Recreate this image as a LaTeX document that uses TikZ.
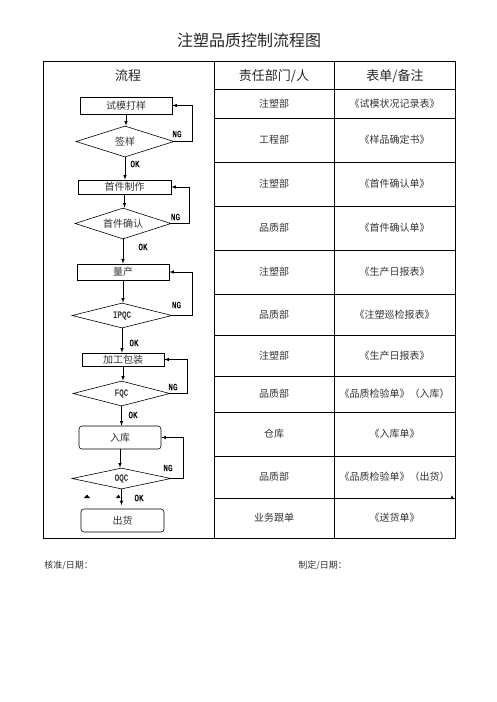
\documentclass[tikz,border=0pt]{standalone}
\usepackage{fontspec}
\newfontfamily\cjk{Noto Sans CJK SC}
\newfontfamily\lat[FakeStretch=0.8, FakeBold=1.2]{Liberation Mono}
\usetikzlibrary{shapes.geometric}

\tikzset{
	caja/.style={draw, rectangle, inner sep=0pt, text=black!80, font=\cjk\fontsize{10}{12}\selectfont},
	rombo/.style={draw, diamond, aspect=4, inner sep=0pt, text=black!80, font=\cjk\fontsize{10}{12}\selectfont},
	etiq/.style={inner sep=0pt, font=\lat\fontsize{9.5}{11}\selectfont},
	celda/.style={inner sep=0pt, text=black!80, font=\cjk\fontsize{10}{12}\selectfont},
	encabezado/.style={inner sep=0pt, text=black!85, font=\cjk\fontsize{13}{15}\selectfont},
}

\begin{document}
\begin{tikzpicture}[x=1pt, y=-1pt, >=latex, line width=0.6pt]
	\useasboundingbox (0,0) rectangle (496,702);
		% Titulo
			\node[encabezado, font=\cjk\fontsize{16}{18}\selectfont] (titulo) at (249,40) {注塑品质控制流程图};
		% Tabla
			\draw[line width=0.9pt] (43,61) rectangle (455,538);
			\draw[line width=0.9pt] (214,61) -- (214,538);
			\draw[line width=0.9pt] (334,61) -- (334,538);
			\foreach \y in {89,118,162,206,250,294,335,376,412,456,498}
				\draw[line width=0.9pt] (214,\y) -- (455,\y);
			\node[encabezado] (hflujo) at (128,76) {流程};
			\node[encabezado] (hdep) at (274,76) {责任部门/人};
			\node[encabezado] (hdoc) at (395,76) {表单/备注};
		% Filas
			\foreach \y/\dep/\doc [count=\i] in {
				103.5/注塑部/《试模状况记录表》,
				140/工程部/《样品确定书》,
				184/注塑部/《首件确认单》,
				228/品质部/《首件确认单》,
				272/注塑部/《生产日报表》,
				314.5/品质部/《注塑巡检报表》,
				355.5/注塑部/《生产日报表》,
				394/品质部/《品质检验单》（入库）,
				434/仓库/《入库单》,
				477/品质部/《品质检验单》（出货）,
				518/业务跟单/《送货单》}{
				\node[celda] (dep\i) at (274,\y) {\dep};
				\node[celda] (doc\i) at (394.5,\y) {\doc};
			}
		% Diagrama de flujo
			\node[caja, minimum width=92pt, minimum height=17pt] (muestra) at (126,105.5) {试模打样};
			\node[rombo, minimum width=98pt, minimum height=31pt] (firma) at (125,141.5) {签样};
			\node[caja, minimum width=93pt, minimum height=14pt] (primera) at (124.5,187) {首件制作};
			\node[rombo, minimum width=96pt, minimum height=31pt] (confirma) at (123,223.5) {首件确认};
			\node[caja, minimum width=92pt, minimum height=16pt] (masa) at (123,272) {量产};
			\node[rombo, minimum width=100pt, minimum height=25pt, font=\lat\fontsize{9.5}{11}\selectfont] (ipqc) at (122,315.5) {IPQC};
			\node[caja, minimum width=82pt, minimum height=13pt] (empaque) at (123,359.5) {加工包装};
			\node[rombo, minimum width=97pt, minimum height=25pt, font=\lat\fontsize{9.5}{11}\selectfont] (fqc) at (121.5,393.5) {FQC};
			\node[caja, rounded corners=3pt, minimum width=82pt, minimum height=23pt] (almacen) at (120,437.5) {入库};
			\node[rombo, minimum width=99pt, minimum height=21pt, font=\lat\fontsize{9.5}{11}\selectfont] (oqc) at (121.5,478.5) {OQC};
			\node[caja, rounded corners=3pt, minimum width=83pt, minimum height=23pt] (envio) at (122.5,520.5) {出货};
		% Flechas OK
			\draw[->] (muestra.south) -- (muestra.south |- firma.north);
			\draw[->] (firma.south) -- (firma.south |- primera.north);
			\draw[->] (primera.south) -- (primera.south |- confirma.north);
			\draw[->] (confirma.south) -- (confirma.south |- masa.north);
			\draw[->] (masa.south) -- (masa.south |- ipqc.north);
			\draw[->] (ipqc.south) -- (ipqc.south |- empaque.north);
			\draw[->] (empaque.south) -- (empaque.south |- fqc.north);
			\draw[->] (fqc.south) -- (fqc.south |- almacen.north);
			\draw[->] (almacen.south) -- (almacen.south |- oqc.north);
			\draw[->] (oqc.south) -- ++(0,16);
		% Retornos NG
			\draw[->] (firma.east) -- ++(18,0) |- (muestra.east);
			\draw[->] (confirma.east) -- ++(18,0) |- (primera.east);
			\draw[->] (ipqc.east) -- ++(20,0) |- (masa.east);
			\draw[->] (fqc.east) -- ++(17,0) |- (empaque.east);
			\draw[->] (oqc.east) -- ++(12,0) |- (almacen.east);
		% Etiquetas
			\node[etiq] (ok1) at (135,164) {OK};
			\node[etiq] (ok2) at (143,247) {OK};
			\node[etiq] (ok3) at (134,343) {OK};
			\node[etiq] (ok4) at (133,415) {OK};
			\node[etiq] (ok5) at (139,498) {OK};
			\node[etiq] (ng1) at (177,134) {NG};
			\node[etiq] (ng2) at (175.5,217) {NG};
			\node[etiq] (ng3) at (176.5,305) {NG};
			\node[etiq] (ng4) at (173,387) {NG};
			\node[etiq] (ng5) at (168,468) {NG};
		% Marcas
			\fill (84,498) -- (87,494.5) -- (90,498) -- cycle;
			\fill (116,498) -- (118.5,494.5) -- (120.5,498) -- cycle;
			\fill (450,499) -- (452,495.5) -- (454,499) -- cycle;
		% Pie
			\node[celda, anchor=west, font=\cjk\fontsize{9}{11}\selectfont] (aprueba) at (44,565) {核准/日期：};
			\node[celda, anchor=west, font=\cjk\fontsize{9}{11}\selectfont] (elabora) at (298,565) {制定/日期：};
\end{tikzpicture}
\end{document}
